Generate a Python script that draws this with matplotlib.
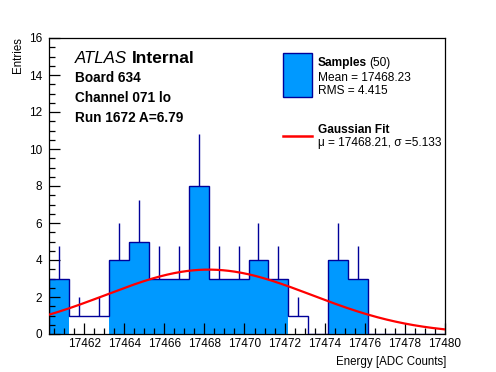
"""ATLAS internal pedestal/energy histogram with a Gaussian fit (ROOT look)."""
import matplotlib
matplotlib.use("Agg")
import matplotlib.pyplot as plt
from matplotlib.patches import Rectangle
from matplotlib.lines import Line2D
import numpy as np

plt.rcParams["font.family"] = ["Liberation Sans", "DejaVu Sans"]

# ---- data ------------------------------------------------------------------
BIN_LO = 17460.25
BIN_WIDTH = 0.995
COUNTS = [3, 1, 1, 4, 5, 3, 3, 8, 3, 3, 4, 3, 1, 0, 4, 3, 0, 0, 0, 0]
ERRORS = [1.73, 1.0, 1.0, 2.0, 2.24, 1.73, 1.73, 2.83, 1.73, 1.73,
          2.0, 1.73, 1.0, 0.0, 2.0, 1.73, 0.0, 0.0, 0.0, 0.0]

FIT_MU = 17468.21
FIT_SIGMA = 5.133
FIT_AMP = 3.48

X_RANGE = (17460.25, 17480.0)
Y_RANGE = (0, 16)
X_TICKS = [17462, 17464, 17466, 17468, 17470, 17472, 17474, 17476, 17478, 17480]
Y_TICKS = [0, 2, 4, 6, 8, 10, 12, 14, 16]

INFO_LINES = ["Board 634", "Channel 071 lo", "Run 1672 A=6.79"]

FILL = "#0099ff"
EDGE = "#000099"
FIT_COLOR = "#ff0000"

W, H = 496, 372


def fig_xy(x, y):
    """pixel position (from top-left) -> figure fraction"""
    return x / W, 1 - y / H


def main():
    fig = plt.figure(figsize=(W / 100, H / 100), dpi=100)
    ax = fig.add_axes([49 / W, 38 / H, 396 / W, 296 / H])

    counts = np.array(COUNTS, dtype=float)
    errs = np.array(ERRORS)
    edges = BIN_LO + BIN_WIDTH * np.arange(len(counts) + 1)
    centers = 0.5 * (edges[:-1] + edges[1:])

    filled = counts > 1
    ax.bar(centers[filled], counts[filled], width=BIN_WIDTH, color=FILL,
           linewidth=0, zorder=1)
    ax.stairs(counts, edges, color=EDGE, linewidth=1.0, baseline=0, zorder=2)
    has = counts > 0
    ax.vlines(centers[has], counts[has], counts[has] + errs[has],
              color=EDGE, linewidth=1.0, zorder=2)

    xs = np.linspace(X_RANGE[0], X_RANGE[1], 400)
    ys = FIT_AMP * np.exp(-0.5 * ((xs - FIT_MU) / FIT_SIGMA) ** 2)
    ax.plot(xs, ys, color=FIT_COLOR, linewidth=1.6, zorder=3)

    ax.set_xlim(*X_RANGE)
    ax.set_ylim(*Y_RANGE)
    ax.set_xticks(X_TICKS)
    ax.set_xticklabels([str(t) for t in X_TICKS])
    ax.set_yticks(Y_TICKS)
    ax.set_xticks(np.arange(17460.5, 17480.01, 0.5), minor=True)
    ax.set_yticks(np.arange(0, 16.01, 0.5), minor=True)
    ax.tick_params(which="both", direction="in", top=False, right=False,
                   labelsize=8.5, width=0.9, color="black")
    ax.tick_params(which="major", length=8)
    ax.tick_params(which="minor", length=4)
    ax.tick_params(axis="y", pad=5)
    ax.tick_params(axis="x", pad=3)
    for s in ax.spines.values():
        s.set_linewidth(0.9)

    fig.text(*fig_xy(446, 368), "Energy [ADC Counts]", ha="right", va="bottom",
             fontsize=8.3)
    fig.text(*fig_xy(18, 37), "Entries", ha="center", va="top",
             rotation=90, fontsize=8.3)

    # ATLAS label and run info
    fig.text(*fig_xy(75, 63), "ATLAS", fontsize=12.2, style="italic",
             ha="left", va="baseline")
    fig.text(*fig_xy(132, 63), "Internal", fontsize=12.5, weight="bold",
             ha="left", va="baseline")
    for i, line in enumerate(INFO_LINES):
        fig.text(*fig_xy(75, 82 + 20 * i), line, fontsize=9.8,
                 weight="bold", ha="left", va="baseline")

    # legend, drawn by hand like the ROOT TLegend
    x0, y0 = fig_xy(283, 97)
    fig.add_artist(Rectangle((x0, y0), 29 / W, 44 / H, transform=fig.transFigure,
                             facecolor=FILL, edgecolor=EDGE, linewidth=1.0))
    fig.text(*fig_xy(318, 66), "Samples", fontsize=8.6, weight="bold",
             ha="left", va="baseline")
    fig.text(*fig_xy(369, 66), "(50)", fontsize=8.6, ha="left", va="baseline")
    fig.text(*fig_xy(318, 81), "Mean = 17468.23", fontsize=8.6,
             ha="left", va="baseline")
    fig.text(*fig_xy(318, 94), "RMS = 4.415", fontsize=8.6,
             ha="left", va="baseline")

    lx0, ly = fig_xy(283, 136)
    lx1, _ = fig_xy(312, 136)
    fig.add_artist(Line2D([lx0, lx1], [ly, ly], transform=fig.transFigure,
                          color=FIT_COLOR, linewidth=1.8))
    fig.text(*fig_xy(318, 133), "Gaussian Fit", fontsize=8.6, weight="bold",
             ha="left", va="baseline")
    fig.text(*fig_xy(318, 146), "\u03bc = 17468.21, \u03c3 =5.133", fontsize=8.6,
             ha="left", va="baseline")

    fig.savefig("out.png", dpi=100)
    plt.close(fig)


if __name__ == "__main__":
    main()
